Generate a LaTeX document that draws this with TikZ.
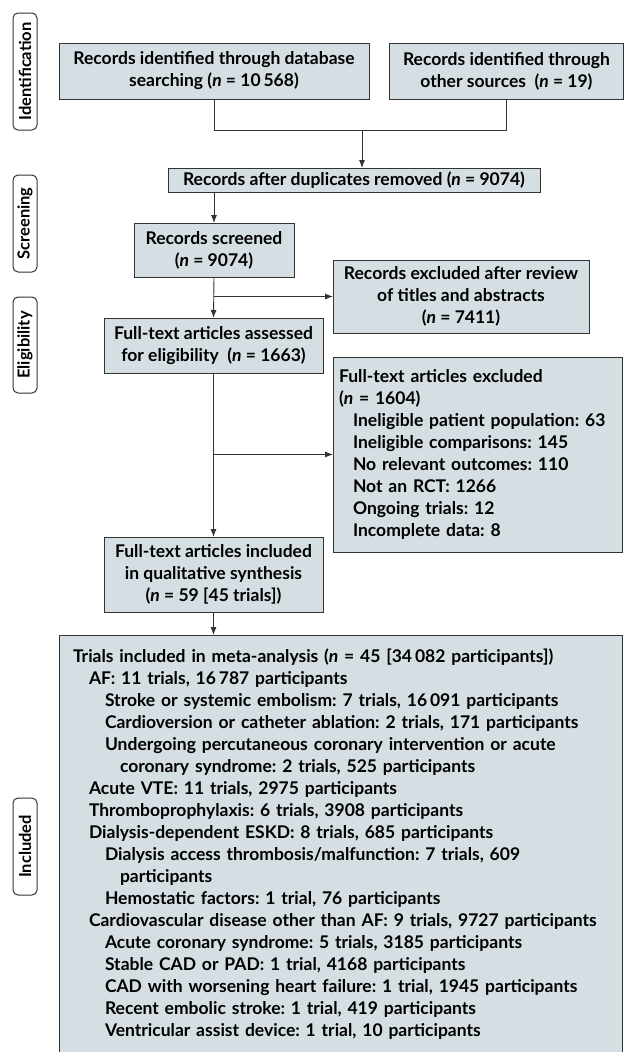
\documentclass[tikz,border=0pt]{standalone}
\usepackage{fontspec}
\setmainfont{Lato}
\frenchspacing
\usetikzlibrary{arrows.meta}
\definecolor{boxfill}{HTML}{D4DEE3}
\definecolor{boxline}{HTML}{333333}
\begin{document}
\begin{tikzpicture}[x=1pt,y=-1pt,
  box/.style={draw=boxline, fill=boxfill, line width=1pt, outer sep=0pt, inner sep=3pt, align=center, font=\fontsize{17.5}{22}\selectfont\bfseries},
  lbox/.style={box, align=left, anchor=north west},
  stage/.style={draw=boxline, fill=white, line width=1pt, rounded corners=5pt, rotate=90, minimum height=24pt, inner sep=0pt, outer sep=0pt, font=\fontsize{16.5}{18}\selectfont\bfseries},
  arr/.style={-{Latex[length=8pt,width=6pt]}, line width=0.9pt, draw=boxline},
  con/.style={line width=0.9pt, draw=boxline}]
\useasboundingbox (0,0) rectangle (627,1052);
\fill[white] (0,0) rectangle (627,1052);

% stage labels
\node[stage, minimum width=117pt] (sid) at (25,71.5) {Identification};
\node[stage, minimum width=97pt] (ssc) at (25,223.5) {Screening};
\node[stage, minimum width=96pt] (sel) at (25,345) {Eligibility};
\node[stage, minimum width=97pt] (sin) at (25,846.5) {Included};

% boxes
\node[box, minimum width=310pt, minimum height=56pt] (b1) at (214,71) {Records identified through database\\searching (\textit{n} = 10\,568)};
\node[box, minimum width=234pt, minimum height=56pt] (b2) at (506.5,71) {Records identified through\\other sources~~(\textit{n} = 19)};
\node[box, minimum width=372pt, minimum height=24pt, inner ysep=1pt] (b3) at (354,180) {Records after duplicates removed (\textit{n} = 9074)};
\node[box, minimum width=160pt, minimum height=54pt] (b4) at (214,250) {Records screened\\(\textit{n} = 9074)};
\node[box, minimum width=256pt, minimum height=73pt] (b5) at (461,296.5) {Records excluded after review\\of titles and abstracts\\(\textit{n} = 7411)};
\node[box, minimum width=219pt, minimum height=55pt] (b6) at (213.5,345.5) {Full-text articles assessed\\for eligibility~~(\textit{n} = 1663)};
\node[lbox, text width=277pt, inner xsep=6pt, minimum height=195pt] (b7) at (333,357) {Full-text articles excluded\\(\textit{n} = 1604)\\
\hspace*{14pt}Ineligible patient population: 63\\
\hspace*{14pt}Ineligible comparisons: 145\\
\hspace*{14pt}No relevant outcomes: 110\\
\hspace*{14pt}Not an RCT: 1266\\
\hspace*{14pt}Ongoing trials: 12\\
\hspace*{14pt}Incomplete data: 8};
\node[box, minimum width=219pt, minimum height=75pt] (b8) at (213.5,574.5) {Full-text articles included\\in qualitative synthesis\\(\textit{n} = 59 [45 trials])};
\node[lbox, text width=535pt, inner xsep=14pt, inner ysep=14pt] (b9) at (59,635) {Trials included in meta-analysis (\textit{n} = 45 [34\,082 participants])\\
\hspace*{16pt}AF: 11 trials, 16\,787 participants\\
\hspace*{32pt}Stroke or systemic embolism: 7 trials, 16\,091 participants\\
\hspace*{32pt}Cardioversion or catheter ablation: 2 trials, 171 participants\\
\hspace*{32pt}Undergoing percutaneous coronary intervention or acute\\
\hspace*{47pt}coronary syndrome: 2 trials, 525 participants\\
\hspace*{16pt}Acute VTE: 11 trials, 2975 participants\\
\hspace*{16pt}Thromboprophylaxis: 6 trials, 3908 participants\\
\hspace*{16pt}Dialysis-dependent ESKD: 8 trials, 685 participants\\
\hspace*{32pt}Dialysis access thrombosis/malfunction: 7 trials, 609\\
\hspace*{47pt}participants\\
\hspace*{32pt}Hemostatic factors: 1 trial, 76 participants\\
\hspace*{16pt}Cardiovascular disease other than AF: 9 trials, 9727 participants\\
\hspace*{32pt}Acute coronary syndrome: 5 trials, 3185 participants\\
\hspace*{32pt}Stable CAD or PAD: 1 trial, 4168 participants\\
\hspace*{32pt}CAD with worsening heart failure: 1 trial, 1945 participants\\
\hspace*{32pt}Recent embolic stroke: 1 trial, 419 participants\\
\hspace*{32pt}Ventricular assist device: 1 trial, 10 participants\rule[-40pt]{0pt}{40pt}};

% connectors
\coordinate (m) at (362,130);
\draw[con] (b1.south) -- (b1.south |- m) -- (b2.south |- m) -- (b2.south);
\draw[arr] (m) -- (m |- b3.north);
\draw[arr] (b3.south -| b4.north) -- (b4.north);
\coordinate (j1) at (b4.south |- b5.west);
\draw[arr] (b4.south) -- (b6.north);
\draw[arr] (j1) -- (b5.west);
\coordinate (j2) at (b6.south |- b7.west);
\draw[arr] (b6.south) -- (b8.north);
\draw[arr] (j2) -- (b7.west);
\draw[arr] (b8.south) -- (b9.north -| b8.south);
\end{tikzpicture}
\end{document}
